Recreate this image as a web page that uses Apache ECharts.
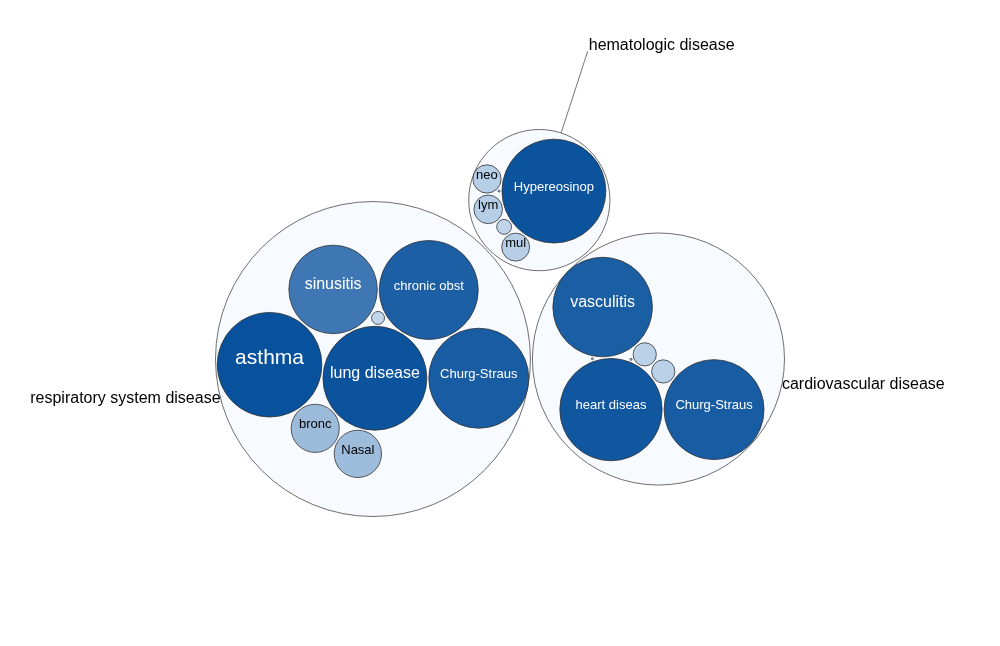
<!DOCTYPE html>
<html>
<head>
<meta charset="utf-8">
<script src="https://cdn.jsdelivr.net/npm/echarts@6/dist/echarts.min.js"></script>
<style>
  html, body { margin: 0; padding: 0; background: #fff; }
  #main { width: 1000px; height: 646px; }
</style>
</head>
<body>
<div id="main"></div>
<script>
// top level groups, in packing order
const groups = ['respiratory system disease', 'cardiovascular disease', 'hematologic disease'];

// leaves of each group, in packing order ('' = small unlabeled term)
const respNames = ['lung disease', 'Churg-Straus', 'chronic obst', '', 'sinusitis', 'asthma', 'bronc', 'Nasal'];
const respValues = [2700, 2500, 2450, 42, 1960, 2740, 580, 560];

const cardioNames = ['heart diseas', 'Churg-Straus', '', '', '', 'vasculitis', ''];
const cardioValues = [2620, 2500, 135, 135, 1, 2480, 1];

const hemaNames = ['', 'Hypereosinop', 'neo', 'lym', '', 'mul'];
const hemaValues = [1, 2700, 200, 205, 55, 195];

const leafNames = [respNames, cardioNames, hemaNames];
const leafValues = [respValues, cardioValues, hemaValues];

// label styling
const FONT = "'Liberation Sans', Arial, Helvetica, sans-serif";
const labelFont = { 'asthma': 21, 'lung disease': 16, 'sinusitis': 16, 'vasculitis': 16 };
const groupLabel = {
    'respiratory system disease': { angle: 165.5, line: 0, align: 'right' },
    'cardiovascular disease': { angle: 11.5, line: 0, align: 'left' },
    'hematologic disease': { angle: -72, line: 86, align: 'left' }
};
const ROOT_R = 289.5;
const PADDING = 2;

let chartDom = document.getElementById('main');
let myChart = echarts.init(chartDom);

// build tree
let root = { name: 'root', depth: 0, children: [] };
groups.forEach((g, i) => {
    let node = { name: g, depth: 1, children: [] };
    leafNames[i].forEach((nm, j) => {
        node.children.push({ name: nm, depth: 2, value: leafValues[i][j] });
    });
    node.value = node.children.reduce((s, c) => s + c.value, 0);
    root.children.push(node);
});

// front-chain circle packing (same steps as the old d3 v3 pack, data order kept)
function place(a, b, c) {
    let db = a.r + c.r, dx = b.x - a.x, dy = b.y - a.y;
    if (db && (dx || dy)) {
        let da = b.r + c.r, dc = dx * dx + dy * dy;
        da *= da; db *= db;
        let x = 0.5 + (db - da) / (2 * dc);
        let y = Math.sqrt(Math.max(0, 2 * da * (db + dc) - (db -= dc) * db - da * da)) / (2 * dc);
        c.x = a.x + x * dx + y * dy;
        c.y = a.y + x * dy - y * dx;
    } else {
        c.x = a.x + db;
        c.y = a.y;
    }
}
function intersects(a, b) {
    let dx = b.x - a.x, dy = b.y - a.y, dr = a.r + b.r;
    return 0.999 * dr * dr > dx * dx + dy * dy;
}
function insert(a, b) {
    let c = a._next;
    a._next = b; b._prev = a; b._next = c; c._prev = b;
}
function splice(a, b) {
    a._next = b; b._prev = a;
}
function packSiblings(node) {
    if (!node.children) return;
    let nodes = node.children, n = nodes.length;
    let xMin = Infinity, xMax = -Infinity, yMin = Infinity, yMax = -Infinity;
    let a, b, c, i, j, k;
    function bound(d) {
        xMin = Math.min(d.x - d.r, xMin); xMax = Math.max(d.x + d.r, xMax);
        yMin = Math.min(d.y - d.r, yMin); yMax = Math.max(d.y + d.r, yMax);
    }
    nodes.forEach(d => { d._next = d._prev = d; });
    a = nodes[0]; a.x = -a.r; a.y = 0; bound(a);
    if (n > 1) {
        b = nodes[1]; b.x = b.r; b.y = 0; bound(b);
        if (n > 2) {
            c = nodes[2];
            place(a, b, c); bound(c);
            insert(a, c); a._prev = c;
            insert(c, b); b = a._next;
            for (i = 3; i < n; i++) {
                place(a, b, c = nodes[i]);
                let isect = 0, s1 = 1, s2 = 1;
                for (j = b._next; j !== b; j = j._next, s1++) {
                    if (intersects(j, c)) { isect = 1; break; }
                }
                if (isect === 1) {
                    for (k = a._prev; k !== j._prev; k = k._prev, s2++) {
                        if (intersects(k, c)) break;
                    }
                }
                if (isect) {
                    if (s1 < s2 || (s1 === s2 && b.r < a.r)) splice(a, b = j);
                    else splice(a = k, b);
                    i--;
                } else {
                    insert(a, c); b = c; bound(c);
                }
            }
        }
    }
    let cx = (xMin + xMax) / 2, cy = (yMin + yMax) / 2, cr = 0;
    nodes.forEach(d => {
        d.x -= cx; d.y -= cy;
        cr = Math.max(cr, d.r + Math.sqrt(d.x * d.x + d.y * d.y));
    });
    node.r = cr;
}
function visitAfter(node, fn) {
    if (node.children) node.children.forEach(ch => visitAfter(ch, fn));
    fn(node);
}
function transform(node, x, y, k) {
    node.x = x += k * node.x;
    node.y = y += k * node.y;
    node.r *= k;
    if (node.children) node.children.forEach(ch => transform(ch, x, y, k));
}

visitAfter(root, d => { if (!d.children) d.r = Math.sqrt(d.value); });
visitAfter(root, packSiblings);
// padding pass: pack again with every radius grown, then shrink back
let dr = PADDING * (root.r / ROOT_R) / 2;
visitAfter(root, d => { d.r += dr; });
visitAfter(root, packSiblings);
visitAfter(root, d => { d.r -= dr; });
root.x = root.y = 0;
transform(root, myChart.getWidth() / 2, myChart.getHeight() / 2, ROOT_R / root.r);

// flat list drawn by the custom series, parents before their children
let flat = [];
root.children.forEach(g => {
    flat.push(g);
    g.children.forEach(l => flat.push(l));
});
const maxLeaf = Math.max(...leafValues.flat());

function renderItem(params, api) {
    let n = flat[params.dataIndex];
    let els = [];
    if (n.depth === 1) {
        els.push({
            type: 'circle',
            shape: { cx: n.x, cy: n.y, r: n.r },
            style: { fill: '#f7fbff', stroke: '#4a4a4a', lineWidth: 0.8 }
        });
        let g = groupLabel[n.name], t = g.angle * Math.PI / 180;
        let ax = n.x + n.r * Math.cos(t), ay = n.y + n.r * Math.sin(t);
        let tx = ax, ty = ay;
        if (g.line) {
            let ex = ax + g.line * Math.cos(t), ey = ay + g.line * Math.sin(t);
            els.push({
                type: 'line',
                shape: { x1: ax, y1: ay, x2: ex, y2: ey },
                style: { stroke: '#777', lineWidth: 1 }
            });
            tx = ex + 1; ty = ey - 6;
        }
        els.push({
            type: 'text',
            style: {
                text: n.name, x: tx, y: ty, fill: '#000',
                fontSize: 16, fontFamily: FONT, align: g.align, verticalAlign: 'middle'
            }
        });
    } else {
        els.push({
            type: 'circle',
            shape: { cx: n.x, cy: n.y, r: n.r },
            style: { fill: api.visual('color'), stroke: '#333', lineWidth: 0.8 }
        });
        if (n.name && n.r > 12) {
            let fs = labelFont[n.name] || 13;
            els.push({
                type: 'text',
                style: {
                    text: n.name, x: n.x, y: n.y - 0.3 * fs,
                    fill: n.value < maxLeaf * 0.4 ? '#000' : '#fff',
                    fontSize: fs, fontFamily: FONT, align: 'center', verticalAlign: 'middle'
                }
            });
        }
    }
    return { type: 'group', children: els };
}

let opt = {
    backgroundColor: '#fff',
    animation: false,
    visualMap: {
        show: false,
        seriesIndex: 0,
        dimension: 0,
        min: 0,
        max: maxLeaf,
        inRange: { color: ['#c4d8ec', '#08519c'] }
    },
    series: [{
        type: 'custom',
        coordinateSystem: 'none',
        renderItem: renderItem,
        data: flat.map(n => ({ name: n.name, value: [n.value, n.depth] }))
    }]
};
myChart.setOption(opt);
</script>
</body>
</html>
